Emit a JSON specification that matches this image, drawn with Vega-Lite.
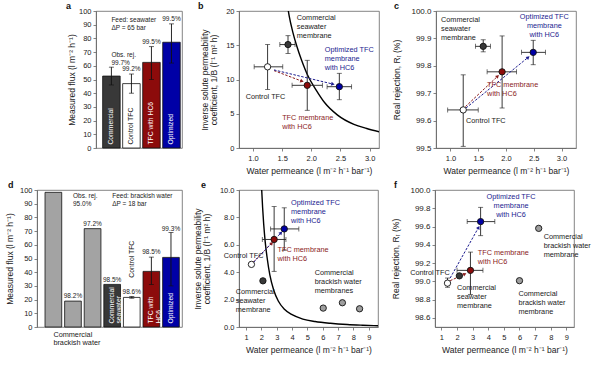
{
 "$schema": "https://vega.github.io/schema/vega-lite/v6.json",
 "background": "white",
 "padding": {"left": 5, "top": 1, "right": 0, "bottom": 0},
 "spacing": 4,
 "bounds": "full",
 "resolve": {"scale": {"color": "independent", "fill": "independent"}},
 "config": {
  "font": "Liberation Sans",
  "view": {"stroke": "#666666", "strokeWidth": 0.8},
  "axis": {"grid": false, "labelFontSize": 7.5, "titleFontSize": 8.5, "titleFontWeight": "normal", "tickSize": 3, "tickWidth": 0.8, "domainWidth": 0.8, "domainColor": "#666666", "tickColor": "#666666", "labelColor": "#222222", "titleColor": "#222222", "labelPadding": 2, "titlePadding": 3, "labelFlush": false, "labelOverlap": false, "titleLineHeight": 9, "tickCount": 20},
  "axisX": {"labelPadding": 3, "titlePadding": 5},
  "title": {"fontSize": 9, "fontWeight": "bold", "anchor": "start", "frame": "group", "offset": -4, "color": "#111111"},
  "text": {"fontSize": 7.3}
 },
 "datasets": {
  "da": [
   {"cat": "Commercial", "flux": 52.5, "lo": 46, "hi": 59, "inl": "Commercial"},
   {"cat": "Control TFC", "flux": 47, "lo": 40, "hi": 54, "inl": "Control TFC"},
   {"cat": "TFC with HC6", "flux": 62.5, "lo": 50, "hi": 74, "inl": "TFC with HC6"},
   {"cat": "Optimized", "flux": 77.2, "lo": 62, "hi": 90.6, "inl": "Optimized"}
  ],
  "la_top": [
   {"cat": "Control TFC", "y": 55.8, "t": "99.2%"},
   {"cat": "TFC with HC6", "y": 75, "t": "99.5%"},
   {"cat": "Optimized", "y": 92, "t": "99.5%"}
  ],
  "la_left": [
   {"cat": "Commercial", "y": 95.7, "t": "Feed: seawater\nΔP = 65 bar"},
   {"cat": "Commercial", "y": 70, "t": "Obs. rej.\n99.7%"}
  ],
  "dd": [
   {"cat": "B1", "flux": 98.3},
   {"cat": "B2", "flux": 18.9},
   {"cat": "B3", "flux": 71.8},
   {"cat": "Commercial seawater", "flux": 31.1, "inl": "Commercial\nseawater"},
   {"cat": "Control TFC", "flux": 21.6, "lo": 21.0, "hi": 22.3},
   {"cat": "TFC with HC6", "flux": 40.6, "lo": 31, "hi": 51, "inl": "TFC with\nHC6"},
   {"cat": "Optimized", "flux": 50.8, "lo": 30, "hi": 69, "inl": "Optimized"}
  ],
  "ld_top": [
   {"cat": "B2", "y": 20.8, "t": "98.2%"},
   {"cat": "B3", "y": 72.8, "t": "97.2%"},
   {"cat": "Commercial seawater", "y": 32.3, "t": "98.5%"},
   {"cat": "Control TFC", "y": 23, "t": "98.6%"},
   {"cat": "TFC with HC6", "y": 52.2, "t": "98.5%"},
   {"cat": "Optimized", "y": 69.5, "t": "99.3%"}
  ],
  "ld_obs": [{"cat": "B2", "y": 97.6, "t": "Obs. rej.\n95.0%"}],
  "ld_feed": [{"cat": "Commercial seawater", "y": 97.6, "t": "Feed: brackish water\nΔP = 18 bar"}],
  "ld_ctl": [{"cat": "Control TFC", "y": 36, "t": "Control TFC"}],
  "ld_below": [{"cat": "B1", "y": -2.9, "t": "Commercial\nbrackish water"}],
  "cb": [
   {"A": 1.57, "v": 22}, {"A": 1.62, "v": 19.3}, {"A": 1.68, "v": 17.0}, {"A": 1.75, "v": 14.9},
   {"A": 1.83, "v": 12.9}, {"A": 1.95, "v": 10.4}, {"A": 2.08, "v": 8.5}, {"A": 2.23, "v": 6.6},
   {"A": 2.45, "v": 4.8}, {"A": 2.73, "v": 3.45}, {"A": 2.95, "v": 2.85}, {"A": 3.17, "v": 2.35}
  ],
  "ce": [
   {"A": 1.98, "v": 11}, {"A": 2.02, "v": 10.0}, {"A": 2.08, "v": 8.7}, {"A": 2.15, "v": 7.5},
   {"A": 2.25, "v": 6.2}, {"A": 2.38, "v": 5.0}, {"A": 2.55, "v": 3.8}, {"A": 2.8, "v": 2.7},
   {"A": 3.1, "v": 1.9}, {"A": 3.5, "v": 1.3}, {"A": 4.0, "v": 0.9}, {"A": 4.7, "v": 0.58},
   {"A": 5.5, "v": 0.4}, {"A": 6.5, "v": 0.27}, {"A": 7.6, "v": 0.18}, {"A": 8.6, "v": 0.13}, {"A": 9.65, "v": 0.09}
  ],
  "pb": [
   {"g": "ctl", "A": 1.25, "v": 11.85, "xlo": 1.02, "xhi": 1.51, "ylo": 8.55, "yhi": 15.1},
   {"g": "sw", "A": 1.6, "v": 15.1, "xlo": 1.46, "xhi": 1.72, "ylo": 13.8, "yhi": 16.4},
   {"g": "hc6", "A": 1.93, "v": 9.15, "xlo": 1.67, "xhi": 2.19, "ylo": 5.5, "yhi": 12.8},
   {"g": "opt", "A": 2.48, "v": 8.95, "xlo": 2.27, "xhi": 2.69, "ylo": 7.05, "yhi": 10.9}
  ],
  "pc": [
   {"g": "ctl", "A": 1.23, "v": 99.639, "xlo": 0.95, "xhi": 1.5, "ylo": 99.506, "yhi": 99.767},
   {"g": "sw", "A": 1.59, "v": 99.871, "xlo": 1.45, "xhi": 1.72, "ylo": 99.851, "yhi": 99.895},
   {"g": "hc6", "A": 1.93, "v": 99.778, "xlo": 1.66, "xhi": 2.19, "ylo": 99.646, "yhi": 99.909},
   {"g": "opt", "A": 2.49, "v": 99.849, "xlo": 2.28, "xhi": 2.71, "ylo": 99.804, "yhi": 99.893}
  ],
  "pe": [
   {"g": "ctl", "A": 1.35, "v": 4.57},
   {"g": "sw", "A": 2.1, "v": 3.37},
   {"g": "hc6", "A": 2.83, "v": 6.39, "xlo": 2.06, "xhi": 3.6, "ylo": 4.06, "yhi": 8.79},
   {"g": "opt", "A": 3.49, "v": 7.16, "xlo": 2.6, "xhi": 4.44, "ylo": 5.6, "yhi": 8.7},
   {"g": "bw", "A": 6.03, "v": 1.38},
   {"g": "bw", "A": 7.28, "v": 1.77},
   {"g": "bw", "A": 8.4, "v": 1.33}
  ],
  "pf": [
   {"g": "ctl", "A": 1.39, "v": 98.98, "ylo": 98.935, "yhi": 99.036},
   {"g": "sw", "A": 2.15, "v": 99.06},
   {"g": "hc6", "A": 2.86, "v": 99.12, "xlo": 2.0, "xhi": 3.66, "ylo": 98.855, "yhi": 99.32},
   {"g": "opt", "A": 3.51, "v": 99.654, "xlo": 2.65, "xhi": 4.42, "ylo": 99.5, "yhi": 99.81},
   {"g": "bw", "A": 7.23, "v": 99.58},
   {"g": "bw", "A": 6.0, "v": 99.007}
  ],
  "ab": [{"x1": 1.36, "y1": 11.3, "x2": 1.84, "y2": 9.75, "c": "r"}, {"x1": 1.36, "y1": 11.4, "x2": 2.37, "y2": 9.33, "c": "b"}],
  "ac": [{"x1": 1.27, "y1": 99.651, "x2": 1.85, "y2": 99.762, "c": "r"}, {"x1": 1.28, "y1": 99.646, "x2": 2.4, "y2": 99.831, "c": "b"}],
  "ae": [{"x1": 1.46, "y1": 4.73, "x2": 2.68, "y2": 6.12, "c": "r"}, {"x1": 1.5, "y1": 4.73, "x2": 3.28, "y2": 6.88, "c": "b"}],
  "af": [{"x1": 1.56, "y1": 99.007, "x2": 2.5, "y2": 99.08, "c": "r"}, {"x1": 1.56, "y1": 99.036, "x2": 3.38, "y2": 99.59, "c": "b"}],
  "lb": [
   {"t": "Commercial\nseawater\nmembrane", "A": 1.75, "v": 19.6, "c": "k"},
   {"t": "Optimized TFC\nmembrane\nwith HC6", "A": 2.23, "v": 14.85, "c": "b"},
   {"t": "Control TFC", "A": 0.875, "v": 8.0, "c": "k"},
   {"t": "TFC membrane\nwith HC6", "A": 1.5, "v": 5.0, "c": "r"}
  ],
  "lc_left": [
   {"t": "Commercial\nseawater\nmembrane", "A": 0.83, "v": 99.98, "c": "k"},
   {"t": "TFC membrane\nwith HC6", "A": 1.66, "v": 99.743, "c": "r"},
   {"t": "Control TFC", "A": 1.28, "v": 99.613, "c": "k"}
  ],
  "lc_center": [{"t": "Optimized TFC\nmembrane\nwith HC6", "A": 2.69, "v": 99.991, "c": "b"}],
  "le": [
   {"t": "Optimized TFC\nmembrane\nwith HC6", "A": 3.93, "v": 9.37, "c": "b"},
   {"t": "TFC membrane\nwith HC6", "A": 3.05, "v": 5.93, "c": "r"},
   {"t": "Control TFC", "A": -0.45, "v": 5.44, "c": "k"},
   {"t": "Commercial\nseawater\nmembrane", "A": 0.33, "v": 2.82, "c": "k"},
   {"t": "Commercial\nbrackish water\nmembranes", "A": 5.47, "v": 4.23, "c": "k"}
  ],
  "lf_left": [
   {"t": "Commercial\nbrackish water\nmembrane", "A": 7.55, "v": 99.53, "c": "k"},
   {"t": "TFC membrane\nwith HC6", "A": 3.33, "v": 99.35, "c": "r"},
   {"t": "Control TFC", "A": -1.0, "v": 99.14, "c": "k"},
   {"t": "Commercial\nseawater\nmembrane", "A": 2.0, "v": 98.97, "c": "k"},
   {"t": "Commercial\nbrackish water\nmembrane", "A": 5.93, "v": 98.9, "c": "k"}
  ],
  "lf_center": [{"t": "Optimized TFC\nmembrane\nwith HC6", "A": 5.46, "v": 99.967, "c": "b"}]
 },
 "vconcat": [
  {
   "spacing": 57,
   "bounds": "flush",
   "resolve": {"scale": {"color": "independent", "fill": "independent"}},
   "hconcat": [
    {
     "width": 2, "height": 137, "view": {"stroke": null},
     "data": {"values": [{"v": 0}]},
     "mark": {"type": "point", "opacity": 0},
     "encoding": {}
    },
    {
     "width": 86, "height": 137,
     "title": {"text": "a", "dx": -30},
     "data": {"name": "da"},
     "layer": [
      {"mark": {"type": "bar", "stroke": "#111111", "strokeWidth": 0.8},
       "encoding": {
        "x": {"field": "cat", "type": "nominal", "sort": null, "scale": {"domain": ["Commercial", "Control TFC", "TFC with HC6", "Optimized"], "paddingInner": 0.125, "paddingOuter": 0.21, "align": 0.79}, "axis": null},
        "y": {"field": "flux", "type": "quantitative", "scale": {"domain": [0, 100], "nice": false}, "axis": {"values": [0, 10, 20, 30, 40, 50, 60, 70, 80, 90, 100], "tickCount": 20, "title": "Measured flux (l m⁻² h⁻¹)", "titlePadding": 2}},
        "color": {"field": "cat", "type": "nominal", "scale": {"domain": ["Commercial", "Control TFC", "TFC with HC6", "Optimized"], "range": ["#383838", "#ffffff", "#8c0b0b", "#0000a6"]}, "legend": null}
       }},
      {"mark": {"type": "rule", "color": "#111111", "strokeWidth": 0.9},
       "encoding": {"x": {"field": "cat", "type": "nominal"}, "y": {"field": "lo", "type": "quantitative"}, "y2": {"field": "hi"}}},
      {"mark": {"type": "tick", "orient": "horizontal", "size": 5, "thickness": 0.9, "color": "#111111"},
       "encoding": {"x": {"field": "cat", "type": "nominal"}, "y": {"field": "lo", "type": "quantitative"}}},
      {"mark": {"type": "tick", "orient": "horizontal", "size": 5, "thickness": 0.9, "color": "#111111"},
       "encoding": {"x": {"field": "cat", "type": "nominal"}, "y": {"field": "hi", "type": "quantitative"}}},
      {"mark": {"type": "text", "angle": 270, "align": "left", "baseline": "middle", "fontSize": 6.8},
       "encoding": {"x": {"field": "cat", "type": "nominal"}, "y": {"datum": 2.5}, "text": {"field": "inl"},
        "color": {"condition": {"test": "datum.cat === 'Control TFC'", "value": "#111111"}, "value": "#ffffff"}}},
      {"data": {"name": "la_top"}, "mark": {"type": "text", "baseline": "bottom", "align": "center", "color": "#222222", "fontSize": 6.5},
       "encoding": {"x": {"field": "cat", "type": "nominal"}, "y": {"field": "y", "type": "quantitative"}, "text": {"field": "t"}}},
      {"data": {"name": "la_left"}, "mark": {"type": "text", "baseline": "top", "align": "left", "lineBreak": "\n", "lineHeight": 7.8, "color": "#222222", "fontSize": 6.5},
       "encoding": {"x": {"field": "cat", "type": "nominal", "band": 0}, "y": {"field": "y", "type": "quantitative"}, "text": {"field": "t"}}}
     ]
    },
    {
     "width": 140, "height": 137,
     "title": {"text": "b", "dx": -41},
     "layer": [
      {"data": {"name": "cb"}, "mark": {"type": "line", "clip": true, "color": "#000000", "strokeWidth": 1.4, "interpolate": "monotone"},
       "encoding": {
        "x": {"field": "A", "type": "quantitative", "scale": {"domain": [0.76, 3.16], "nice": false, "zero": false}, "axis": {"values": [1, 1.5, 2, 2.5, 3], "tickCount": 20, "format": ".1f", "title": "Water permeance (l m⁻² h⁻¹ bar⁻¹)"}},
        "y": {"field": "v", "type": "quantitative", "scale": {"domain": [0, 20], "nice": false, "zero": false}, "axis": {"values": [0, 5, 10, 15, 20], "tickCount": 20, "title": ["Inverse solute permeability", "coefficient, 1/B (l⁻¹ m² h)"], "titlePadding": 7}}
       }},
      {"data": {"name": "pb"}, "transform": [{"filter": "datum.ylo != null"}], "mark": {"type": "rule", "color": "#222222", "strokeWidth": 0.9},
       "encoding": {"x": {"field": "A", "type": "quantitative"}, "y": {"field": "ylo", "type": "quantitative"}, "y2": {"field": "yhi"}}},
      {"data": {"name": "pb"}, "transform": [{"filter": "datum.ylo != null"}], "mark": {"type": "tick", "orient": "horizontal", "size": 5, "thickness": 0.9, "color": "#222222"},
       "encoding": {"x": {"field": "A", "type": "quantitative"}, "y": {"field": "ylo", "type": "quantitative"}}},
      {"data": {"name": "pb"}, "transform": [{"filter": "datum.ylo != null"}], "mark": {"type": "tick", "orient": "horizontal", "size": 5, "thickness": 0.9, "color": "#222222"},
       "encoding": {"x": {"field": "A", "type": "quantitative"}, "y": {"field": "yhi", "type": "quantitative"}}},
      {"data": {"name": "pb"}, "transform": [{"filter": "datum.xlo != null"}], "mark": {"type": "rule", "color": "#222222", "strokeWidth": 0.9},
       "encoding": {"y": {"field": "v", "type": "quantitative"}, "x": {"field": "xlo", "type": "quantitative"}, "x2": {"field": "xhi"}}},
      {"data": {"name": "pb"}, "transform": [{"filter": "datum.xlo != null"}], "mark": {"type": "tick", "orient": "vertical", "size": 5, "thickness": 0.9, "color": "#222222"},
       "encoding": {"y": {"field": "v", "type": "quantitative"}, "x": {"field": "xlo", "type": "quantitative"}}},
      {"data": {"name": "pb"}, "transform": [{"filter": "datum.xlo != null"}], "mark": {"type": "tick", "orient": "vertical", "size": 5, "thickness": 0.9, "color": "#222222"},
       "encoding": {"y": {"field": "v", "type": "quantitative"}, "x": {"field": "xhi", "type": "quantitative"}}},
      {"data": {"name": "ab"}, "mark": {"type": "rule", "strokeDash": [2.5, 1.5], "strokeWidth": 1},
       "encoding": {"x": {"field": "x1", "type": "quantitative"}, "y": {"field": "y1", "type": "quantitative"}, "x2": {"field": "x2"}, "y2": {"field": "y2"},
        "color": {"field": "c", "type": "nominal", "scale": {"domain": ["k", "r", "b"], "range": ["#1a1a1a", "#8b1c1c", "#1c1c8f"]}, "legend": null}}},
      {"data": {"name": "ab"}, "transform": [{"filter": "datum.c === 'r'"}], "mark": {"type": "point", "shape": "triangle-right", "filled": true, "size": 16, "angle": 20, "color": "#8b1c1c", "opacity": 1},
       "encoding": {"x": {"field": "x2", "type": "quantitative"}, "y": {"field": "y2", "type": "quantitative"}}},
      {"data": {"name": "ab"}, "transform": [{"filter": "datum.c === 'b'"}], "mark": {"type": "point", "shape": "triangle-right", "filled": true, "size": 16, "angle": 13, "color": "#1c1c8f", "opacity": 1},
       "encoding": {"x": {"field": "x2", "type": "quantitative"}, "y": {"field": "y2", "type": "quantitative"}}},
      {"data": {"name": "pb"}, "mark": {"type": "point", "shape": "circle", "filled": true, "size": 40, "stroke": "#111111", "strokeWidth": 0.9, "opacity": 1},
       "encoding": {"x": {"field": "A", "type": "quantitative"}, "y": {"field": "v", "type": "quantitative"},
        "fill": {"field": "g", "type": "nominal", "scale": {"domain": ["sw", "ctl", "hc6", "opt", "bw"], "range": ["#383838", "#ffffff", "#8c0b0b", "#0000a6", "#9e9e9e"]}, "legend": null}}},
      {"data": {"name": "lb"}, "mark": {"type": "text", "align": "left", "baseline": "top", "lineBreak": "\n", "lineHeight": 9},
       "encoding": {"x": {"field": "A", "type": "quantitative"}, "y": {"field": "v", "type": "quantitative"}, "text": {"field": "t"},
        "color": {"field": "c", "type": "nominal", "scale": {"domain": ["k", "r", "b"], "range": ["#1a1a1a", "#8b1c1c", "#1c1c8f"]}, "legend": null}}}
     ]
    },
    {
     "width": 140, "height": 137,
     "title": {"text": "c", "dx": -42},
     "layer": [
      {"data": {"name": "pc"}, "transform": [{"filter": "datum.ylo != null"}], "mark": {"type": "rule", "color": "#222222", "strokeWidth": 0.9},
       "encoding": {
        "x": {"field": "A", "type": "quantitative", "scale": {"domain": [0.74, 3.26], "nice": false, "zero": false}, "axis": {"values": [1, 1.5, 2, 2.5, 3], "tickCount": 20, "format": ".1f", "title": "Water permeance (l m⁻² h⁻¹ bar⁻¹)"}},
        "y": {"field": "ylo", "type": "quantitative", "scale": {"domain": [99.5, 100], "nice": false, "zero": false}, "axis": {"values": [99.5, 99.6, 99.7, 99.8, 99.9, 100], "tickCount": 20, "format": ".1f", "labelFontSize": 8, "title": "Real rejection, Rᵣ (%)", "titlePadding": 9}},
        "y2": {"field": "yhi"}}},
      {"data": {"name": "pc"}, "transform": [{"filter": "datum.ylo != null"}], "mark": {"type": "tick", "orient": "horizontal", "size": 5, "thickness": 0.9, "color": "#222222"},
       "encoding": {"x": {"field": "A", "type": "quantitative"}, "y": {"field": "ylo", "type": "quantitative"}}},
      {"data": {"name": "pc"}, "transform": [{"filter": "datum.ylo != null"}], "mark": {"type": "tick", "orient": "horizontal", "size": 5, "thickness": 0.9, "color": "#222222"},
       "encoding": {"x": {"field": "A", "type": "quantitative"}, "y": {"field": "yhi", "type": "quantitative"}}},
      {"data": {"name": "pc"}, "transform": [{"filter": "datum.xlo != null"}], "mark": {"type": "rule", "color": "#222222", "strokeWidth": 0.9},
       "encoding": {"y": {"field": "v", "type": "quantitative"}, "x": {"field": "xlo", "type": "quantitative"}, "x2": {"field": "xhi"}}},
      {"data": {"name": "pc"}, "transform": [{"filter": "datum.xlo != null"}], "mark": {"type": "tick", "orient": "vertical", "size": 5, "thickness": 0.9, "color": "#222222"},
       "encoding": {"y": {"field": "v", "type": "quantitative"}, "x": {"field": "xlo", "type": "quantitative"}}},
      {"data": {"name": "pc"}, "transform": [{"filter": "datum.xlo != null"}], "mark": {"type": "tick", "orient": "vertical", "size": 5, "thickness": 0.9, "color": "#222222"},
       "encoding": {"y": {"field": "v", "type": "quantitative"}, "x": {"field": "xhi", "type": "quantitative"}}},
      {"data": {"name": "ac"}, "mark": {"type": "rule", "strokeDash": [2.5, 1.5], "strokeWidth": 1},
       "encoding": {"x": {"field": "x1", "type": "quantitative"}, "y": {"field": "y1", "type": "quantitative"}, "x2": {"field": "x2"}, "y2": {"field": "y2"},
        "color": {"field": "c", "type": "nominal", "scale": {"domain": ["k", "r", "b"], "range": ["#1a1a1a", "#8b1c1c", "#1c1c8f"]}, "legend": null}}},
      {"data": {"name": "ac"}, "transform": [{"filter": "datum.c === 'r'"}], "mark": {"type": "point", "shape": "triangle-right", "filled": true, "size": 16, "angle": -44, "color": "#8b1c1c", "opacity": 1},
       "encoding": {"x": {"field": "x2", "type": "quantitative"}, "y": {"field": "y2", "type": "quantitative"}}},
      {"data": {"name": "ac"}, "transform": [{"filter": "datum.c === 'b'"}], "mark": {"type": "point", "shape": "triangle-right", "filled": true, "size": 16, "angle": -40, "color": "#1c1c8f", "opacity": 1},
       "encoding": {"x": {"field": "x2", "type": "quantitative"}, "y": {"field": "y2", "type": "quantitative"}}},
      {"data": {"name": "pc"}, "mark": {"type": "point", "shape": "circle", "filled": true, "size": 40, "stroke": "#111111", "strokeWidth": 0.9, "opacity": 1},
       "encoding": {"x": {"field": "A", "type": "quantitative"}, "y": {"field": "v", "type": "quantitative"},
        "fill": {"field": "g", "type": "nominal", "scale": {"domain": ["sw", "ctl", "hc6", "opt", "bw"], "range": ["#383838", "#ffffff", "#8c0b0b", "#0000a6", "#9e9e9e"]}, "legend": null}}},
      {"data": {"name": "lc_left"}, "mark": {"type": "text", "align": "left", "baseline": "top", "lineBreak": "\n", "lineHeight": 9},
       "encoding": {"x": {"field": "A", "type": "quantitative"}, "y": {"field": "v", "type": "quantitative"}, "text": {"field": "t"},
        "color": {"field": "c", "type": "nominal", "scale": {"domain": ["k", "r", "b"], "range": ["#1a1a1a", "#8b1c1c", "#1c1c8f"]}, "legend": null}}},
      {"data": {"name": "lc_center"}, "mark": {"type": "text", "align": "center", "baseline": "top", "lineBreak": "\n", "lineHeight": 9},
       "encoding": {"x": {"field": "A", "type": "quantitative"}, "y": {"field": "v", "type": "quantitative"}, "text": {"field": "t"},
        "color": {"field": "c", "type": "nominal", "scale": {"domain": ["k", "r", "b"], "range": ["#1a1a1a", "#8b1c1c", "#1c1c8f"]}, "legend": null}}}
     ]
    }
   ]
  },
  {
   "spacing": 57,
   "bounds": "flush",
   "resolve": {"scale": {"color": "independent", "fill": "independent"}},
   "hconcat": [
    {
     "width": 145, "height": 137,
     "title": {"text": "d", "dx": -29},
     "data": {"name": "dd"},
     "layer": [
      {"mark": {"type": "bar", "stroke": "#111111", "strokeWidth": 0.8},
       "encoding": {
        "x": {"field": "cat", "type": "nominal", "sort": null, "scale": {"domain": ["B1", "B2", "B3", "Commercial seawater", "Control TFC", "TFC with HC6", "Optimized"], "paddingInner": 0.148, "paddingOuter": 0.273, "align": 0.75}, "axis": null},
        "y": {"field": "flux", "type": "quantitative", "scale": {"domain": [0, 100], "nice": false}, "axis": {"values": [0, 10, 20, 30, 40, 50, 60, 70, 80, 90, 100], "tickCount": 20, "title": "Measured flux (l m⁻² h⁻¹)", "titlePadding": 5}},
        "color": {"field": "cat", "type": "nominal", "scale": {"domain": ["B1", "B2", "B3", "Commercial seawater", "Control TFC", "TFC with HC6", "Optimized"], "range": ["#a3a3a3", "#a3a3a3", "#a3a3a3", "#383838", "#ffffff", "#8c0b0b", "#0000a6"]}, "legend": null}
       }},
      {"transform": [{"filter": "datum.lo != null"}], "mark": {"type": "rule", "color": "#111111", "strokeWidth": 0.9},
       "encoding": {"x": {"field": "cat", "type": "nominal"}, "y": {"field": "lo", "type": "quantitative"}, "y2": {"field": "hi"}}},
      {"transform": [{"filter": "datum.lo != null"}], "mark": {"type": "tick", "orient": "horizontal", "size": 5, "thickness": 0.9, "color": "#111111"},
       "encoding": {"x": {"field": "cat", "type": "nominal"}, "y": {"field": "lo", "type": "quantitative"}}},
      {"transform": [{"filter": "datum.lo != null"}], "mark": {"type": "tick", "orient": "horizontal", "size": 5, "thickness": 0.9, "color": "#111111"},
       "encoding": {"x": {"field": "cat", "type": "nominal"}, "y": {"field": "hi", "type": "quantitative"}}},
      {"transform": [{"filter": "datum.inl != null"}], "mark": {"type": "text", "angle": 270, "align": "left", "baseline": "middle", "fontSize": 6.8, "lineBreak": "\n", "lineHeight": 7.3, "color": "#ffffff"},
       "encoding": {"x": {"field": "cat", "type": "nominal"}, "y": {"datum": 2.5}, "text": {"field": "inl"}}},
      {"data": {"name": "ld_ctl"}, "mark": {"type": "text", "angle": 270, "align": "left", "baseline": "middle", "fontSize": 6.8, "color": "#111111"},
       "encoding": {"x": {"field": "cat", "type": "nominal"}, "y": {"field": "y", "type": "quantitative"}, "text": {"field": "t"}}},
      {"data": {"name": "ld_top"}, "mark": {"type": "text", "baseline": "bottom", "align": "center", "color": "#222222", "fontSize": 6.5},
       "encoding": {"x": {"field": "cat", "type": "nominal"}, "y": {"field": "y", "type": "quantitative"}, "text": {"field": "t"}}},
      {"data": {"name": "ld_obs"}, "mark": {"type": "text", "baseline": "top", "align": "left", "lineBreak": "\n", "lineHeight": 7.8, "color": "#222222", "fontSize": 6.5},
       "encoding": {"x": {"field": "cat", "type": "nominal", "band": 0}, "y": {"field": "y", "type": "quantitative"}, "text": {"field": "t"}}},
      {"data": {"name": "ld_feed"}, "mark": {"type": "text", "baseline": "top", "align": "left", "lineBreak": "\n", "lineHeight": 7.8, "color": "#222222", "fontSize": 6.5},
       "encoding": {"x": {"field": "cat", "type": "nominal", "band": 0.4}, "y": {"field": "y", "type": "quantitative"}, "text": {"field": "t"}}},
      {"data": {"name": "ld_below"}, "mark": {"type": "text", "baseline": "top", "align": "left", "lineBreak": "\n", "lineHeight": 8.5, "fontSize": 7.3, "color": "#222222"},
       "encoding": {"x": {"field": "cat", "type": "nominal", "band": 0.35}, "y": {"field": "y", "type": "quantitative"}, "text": {"field": "t"}}}
     ]
    },
    {
     "width": 139, "height": 137,
     "title": {"text": "e", "dx": -38},
     "layer": [
      {"data": {"name": "ce"}, "mark": {"type": "line", "clip": true, "color": "#000000", "strokeWidth": 1.4, "interpolate": "monotone"},
       "encoding": {
        "x": {"field": "A", "type": "quantitative", "scale": {"domain": [0.54, 9.6], "nice": false, "zero": false}, "axis": {"values": [1, 2, 3, 4, 5, 6, 7, 8, 9], "tickCount": 20, "format": "d", "title": "Water permeance (l m⁻² h⁻¹ bar⁻¹)"}},
        "y": {"field": "v", "type": "quantitative", "scale": {"domain": [0, 10], "nice": false, "zero": false}, "axis": {"values": [0, 2, 4, 6, 8, 10], "tickCount": 20, "title": ["Inverse solute permeability", "coefficient, 1/B (l⁻¹ m² h)"], "titlePadding": 8}}
       }},
      {"data": {"name": "pe"}, "transform": [{"filter": "datum.ylo != null"}], "mark": {"type": "rule", "color": "#222222", "strokeWidth": 0.9},
       "encoding": {"x": {"field": "A", "type": "quantitative"}, "y": {"field": "ylo", "type": "quantitative"}, "y2": {"field": "yhi"}}},
      {"data": {"name": "pe"}, "transform": [{"filter": "datum.ylo != null"}], "mark": {"type": "tick", "orient": "horizontal", "size": 5, "thickness": 0.9, "color": "#222222"},
       "encoding": {"x": {"field": "A", "type": "quantitative"}, "y": {"field": "ylo", "type": "quantitative"}}},
      {"data": {"name": "pe"}, "transform": [{"filter": "datum.ylo != null"}], "mark": {"type": "tick", "orient": "horizontal", "size": 5, "thickness": 0.9, "color": "#222222"},
       "encoding": {"x": {"field": "A", "type": "quantitative"}, "y": {"field": "yhi", "type": "quantitative"}}},
      {"data": {"name": "pe"}, "transform": [{"filter": "datum.xlo != null"}], "mark": {"type": "rule", "color": "#222222", "strokeWidth": 0.9},
       "encoding": {"y": {"field": "v", "type": "quantitative"}, "x": {"field": "xlo", "type": "quantitative"}, "x2": {"field": "xhi"}}},
      {"data": {"name": "pe"}, "transform": [{"filter": "datum.xlo != null"}], "mark": {"type": "tick", "orient": "vertical", "size": 5, "thickness": 0.9, "color": "#222222"},
       "encoding": {"y": {"field": "v", "type": "quantitative"}, "x": {"field": "xlo", "type": "quantitative"}}},
      {"data": {"name": "pe"}, "transform": [{"filter": "datum.xlo != null"}], "mark": {"type": "tick", "orient": "vertical", "size": 5, "thickness": 0.9, "color": "#222222"},
       "encoding": {"y": {"field": "v", "type": "quantitative"}, "x": {"field": "xhi", "type": "quantitative"}}},
      {"data": {"name": "ae"}, "mark": {"type": "rule", "strokeDash": [2.5, 1.5], "strokeWidth": 1},
       "encoding": {"x": {"field": "x1", "type": "quantitative"}, "y": {"field": "y1", "type": "quantitative"}, "x2": {"field": "x2"}, "y2": {"field": "y2"},
        "color": {"field": "c", "type": "nominal", "scale": {"domain": ["k", "r", "b"], "range": ["#1a1a1a", "#8b1c1c", "#1c1c8f"]}, "legend": null}}},
      {"data": {"name": "ae"}, "transform": [{"filter": "datum.c === 'r'"}], "mark": {"type": "point", "shape": "triangle-right", "filled": true, "size": 16, "angle": -46, "color": "#8b1c1c", "opacity": 1},
       "encoding": {"x": {"field": "x2", "type": "quantitative"}, "y": {"field": "y2", "type": "quantitative"}}},
      {"data": {"name": "ae"}, "transform": [{"filter": "datum.c === 'b'"}], "mark": {"type": "point", "shape": "triangle-right", "filled": true, "size": 16, "angle": -48, "color": "#1c1c8f", "opacity": 1},
       "encoding": {"x": {"field": "x2", "type": "quantitative"}, "y": {"field": "y2", "type": "quantitative"}}},
      {"data": {"name": "pe"}, "mark": {"type": "point", "shape": "circle", "filled": true, "size": 40, "stroke": "#111111", "strokeWidth": 0.9, "opacity": 1},
       "encoding": {"x": {"field": "A", "type": "quantitative"}, "y": {"field": "v", "type": "quantitative"},
        "fill": {"field": "g", "type": "nominal", "scale": {"domain": ["sw", "ctl", "hc6", "opt", "bw"], "range": ["#383838", "#ffffff", "#8c0b0b", "#0000a6", "#9e9e9e"]}, "legend": null}}},
      {"data": {"name": "le"}, "mark": {"type": "text", "align": "left", "baseline": "top", "lineBreak": "\n", "lineHeight": 9},
       "encoding": {"x": {"field": "A", "type": "quantitative"}, "y": {"field": "v", "type": "quantitative"}, "text": {"field": "t"},
        "color": {"field": "c", "type": "nominal", "scale": {"domain": ["k", "r", "b"], "range": ["#1a1a1a", "#8b1c1c", "#1c1c8f"]}, "legend": null}}}
     ]
    },
    {
     "width": 139, "height": 137,
     "title": {"text": "f", "dx": -41},
     "layer": [
      {"data": {"name": "pf"}, "transform": [{"filter": "datum.ylo != null"}], "mark": {"type": "rule", "color": "#222222", "strokeWidth": 0.9},
       "encoding": {
        "x": {"field": "A", "type": "quantitative", "scale": {"domain": [0.59, 9.49], "nice": false, "zero": false}, "axis": {"values": [1, 2, 3, 4, 5, 6, 7, 8, 9], "tickCount": 20, "format": "d", "title": "Water permeance (l m⁻² h⁻¹ bar⁻¹)"}},
        "y": {"field": "ylo", "type": "quantitative", "scale": {"domain": [98.5, 100], "nice": false, "zero": false}, "axis": {"values": [98.6, 98.8, 99, 99.2, 99.4, 99.6, 99.8, 100], "tickCount": 20, "format": ".1f", "labelFontSize": 8, "title": "Real rejection, Rᵣ (%)", "titlePadding": 9}},
        "y2": {"field": "yhi"}}},
      {"data": {"name": "pf"}, "transform": [{"filter": "datum.ylo != null"}], "mark": {"type": "tick", "orient": "horizontal", "size": 5, "thickness": 0.9, "color": "#222222"},
       "encoding": {"x": {"field": "A", "type": "quantitative"}, "y": {"field": "ylo", "type": "quantitative"}}},
      {"data": {"name": "pf"}, "transform": [{"filter": "datum.ylo != null"}], "mark": {"type": "tick", "orient": "horizontal", "size": 5, "thickness": 0.9, "color": "#222222"},
       "encoding": {"x": {"field": "A", "type": "quantitative"}, "y": {"field": "yhi", "type": "quantitative"}}},
      {"data": {"name": "pf"}, "transform": [{"filter": "datum.xlo != null"}], "mark": {"type": "rule", "color": "#222222", "strokeWidth": 0.9},
       "encoding": {"y": {"field": "v", "type": "quantitative"}, "x": {"field": "xlo", "type": "quantitative"}, "x2": {"field": "xhi"}}},
      {"data": {"name": "pf"}, "transform": [{"filter": "datum.xlo != null"}], "mark": {"type": "tick", "orient": "vertical", "size": 5, "thickness": 0.9, "color": "#222222"},
       "encoding": {"y": {"field": "v", "type": "quantitative"}, "x": {"field": "xlo", "type": "quantitative"}}},
      {"data": {"name": "pf"}, "transform": [{"filter": "datum.xlo != null"}], "mark": {"type": "tick", "orient": "vertical", "size": 5, "thickness": 0.9, "color": "#222222"},
       "encoding": {"y": {"field": "v", "type": "quantitative"}, "x": {"field": "xhi", "type": "quantitative"}}},
      {"data": {"name": "af"}, "mark": {"type": "rule", "strokeDash": [2.5, 1.5], "strokeWidth": 1},
       "encoding": {"x": {"field": "x1", "type": "quantitative"}, "y": {"field": "y1", "type": "quantitative"}, "x2": {"field": "x2"}, "y2": {"field": "y2"},
        "color": {"field": "c", "type": "nominal", "scale": {"domain": ["k", "r", "b"], "range": ["#1a1a1a", "#8b1c1c", "#1c1c8f"]}, "legend": null}}},
      {"data": {"name": "af"}, "transform": [{"filter": "datum.c === 'r'"}], "mark": {"type": "point", "shape": "triangle-right", "filled": true, "size": 16, "angle": -25, "color": "#8b1c1c", "opacity": 1},
       "encoding": {"x": {"field": "x2", "type": "quantitative"}, "y": {"field": "y2", "type": "quantitative"}}},
      {"data": {"name": "af"}, "transform": [{"filter": "datum.c === 'b'"}], "mark": {"type": "point", "shape": "triangle-right", "filled": true, "size": 16, "angle": -61, "color": "#1c1c8f", "opacity": 1},
       "encoding": {"x": {"field": "x2", "type": "quantitative"}, "y": {"field": "y2", "type": "quantitative"}}},
      {"data": {"name": "pf"}, "mark": {"type": "point", "shape": "circle", "filled": true, "size": 40, "stroke": "#111111", "strokeWidth": 0.9, "opacity": 1},
       "encoding": {"x": {"field": "A", "type": "quantitative"}, "y": {"field": "v", "type": "quantitative"},
        "fill": {"field": "g", "type": "nominal", "scale": {"domain": ["sw", "ctl", "hc6", "opt", "bw"], "range": ["#383838", "#ffffff", "#8c0b0b", "#0000a6", "#9e9e9e"]}, "legend": null}}},
      {"data": {"name": "lf_left"}, "mark": {"type": "text", "align": "left", "baseline": "top", "lineBreak": "\n", "lineHeight": 9},
       "encoding": {"x": {"field": "A", "type": "quantitative"}, "y": {"field": "v", "type": "quantitative"}, "text": {"field": "t"},
        "color": {"field": "c", "type": "nominal", "scale": {"domain": ["k", "r", "b"], "range": ["#1a1a1a", "#8b1c1c", "#1c1c8f"]}, "legend": null}}},
      {"data": {"name": "lf_center"}, "mark": {"type": "text", "align": "center", "baseline": "top", "lineBreak": "\n", "lineHeight": 9},
       "encoding": {"x": {"field": "A", "type": "quantitative"}, "y": {"field": "v", "type": "quantitative"}, "text": {"field": "t"},
        "color": {"field": "c", "type": "nominal", "scale": {"domain": ["k", "r", "b"], "range": ["#1a1a1a", "#8b1c1c", "#1c1c8f"]}, "legend": null}}}
     ]
    }
   ]
  }
 ]
}
